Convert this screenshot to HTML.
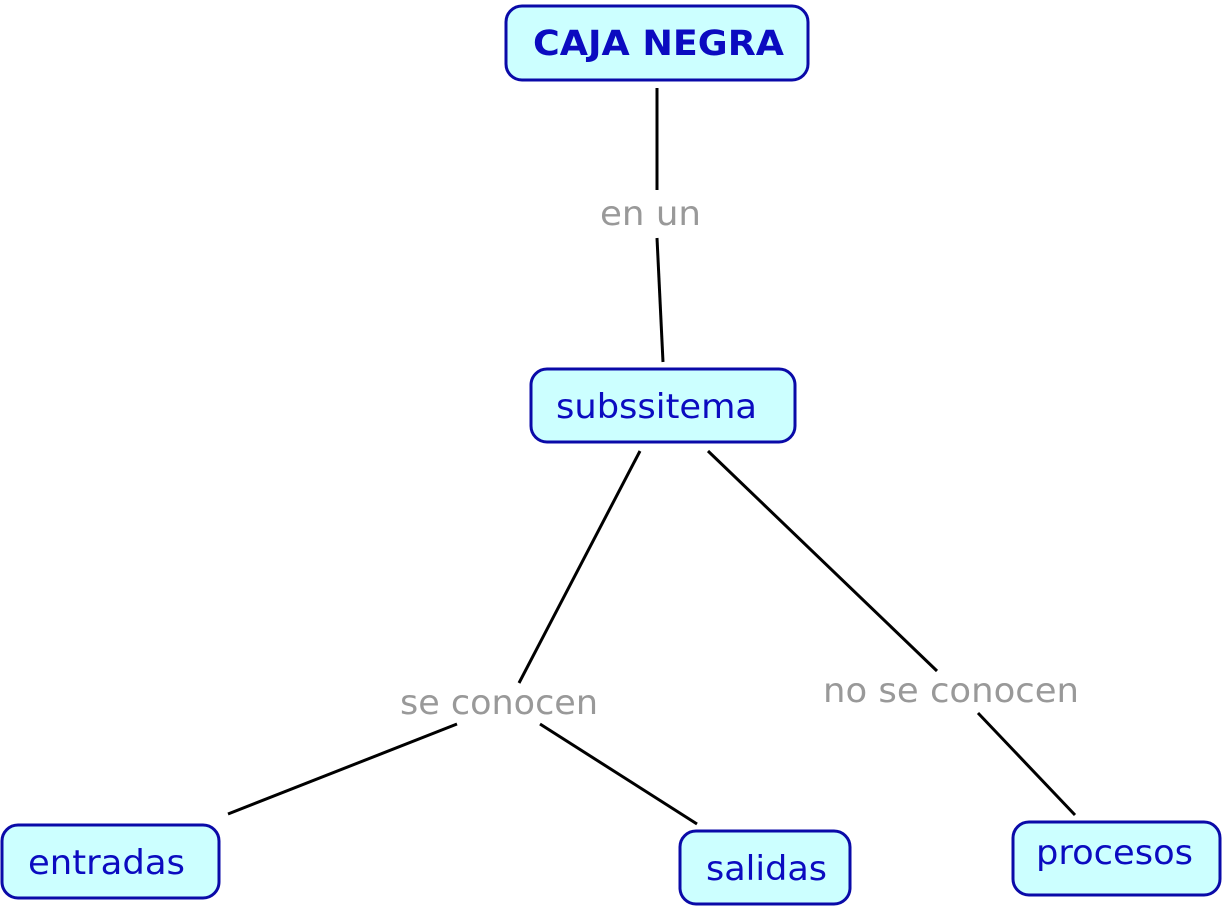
<!DOCTYPE html>
<html><head><meta charset="utf-8"><style>
html,body{margin:0;padding:0;background:#fff;width:1227px;height:910px;overflow:hidden}
svg{display:block}
text{font-family:"DejaVu Sans","Liberation Sans",sans-serif}
</style></head><body>
<svg width="1227" height="910" viewBox="0 0 1227 910" xmlns="http://www.w3.org/2000/svg">
<g stroke="#000" stroke-width="3" fill="none">
<line x1="657" y1="88" x2="657" y2="190"/>
<line x1="657" y1="238" x2="663" y2="362"/>
<line x1="640" y1="451" x2="519" y2="683"/>
<line x1="708" y1="451" x2="937" y2="671"/>
<line x1="457" y1="724" x2="228" y2="814"/>
<line x1="540" y1="724" x2="697" y2="824"/>
<line x1="978" y1="713" x2="1075" y2="815"/>
</g>
<g fill="#ccffff" stroke="#0a0aa8" stroke-width="3">
<rect x="506" y="6" width="302" height="74" rx="16"/>
<rect x="531" y="369" width="264" height="73" rx="16"/>
<rect x="2" y="825" width="217" height="73" rx="16"/>
<rect x="680" y="831" width="170" height="73" rx="16"/>
<rect x="1013" y="822" width="207" height="73" rx="16"/>
</g>
<g fill="#0b0bc0" font-size="34" lengthAdjust="spacingAndGlyphs">
<text x="533" y="55" font-weight="bold" font-size="35" textLength="251" lengthAdjust="spacingAndGlyphs">CAJA NEGRA</text>
<text x="556" y="418" textLength="201" lengthAdjust="spacingAndGlyphs">subssitema</text>
<text x="28" y="874" textLength="157" lengthAdjust="spacingAndGlyphs">entradas</text>
<text x="706" y="880" textLength="121" lengthAdjust="spacingAndGlyphs">salidas</text>
<text x="1036" y="864" textLength="157" lengthAdjust="spacingAndGlyphs">procesos</text>
</g>
<g fill="#999" font-size="34">
<text x="600" y="225" textLength="101" lengthAdjust="spacingAndGlyphs">en un</text>
<text x="400" y="714" textLength="198" lengthAdjust="spacingAndGlyphs">se conocen</text>
<text x="823" y="702" textLength="256" lengthAdjust="spacingAndGlyphs">no se conocen</text>
</g>
</svg>
</body></html>
